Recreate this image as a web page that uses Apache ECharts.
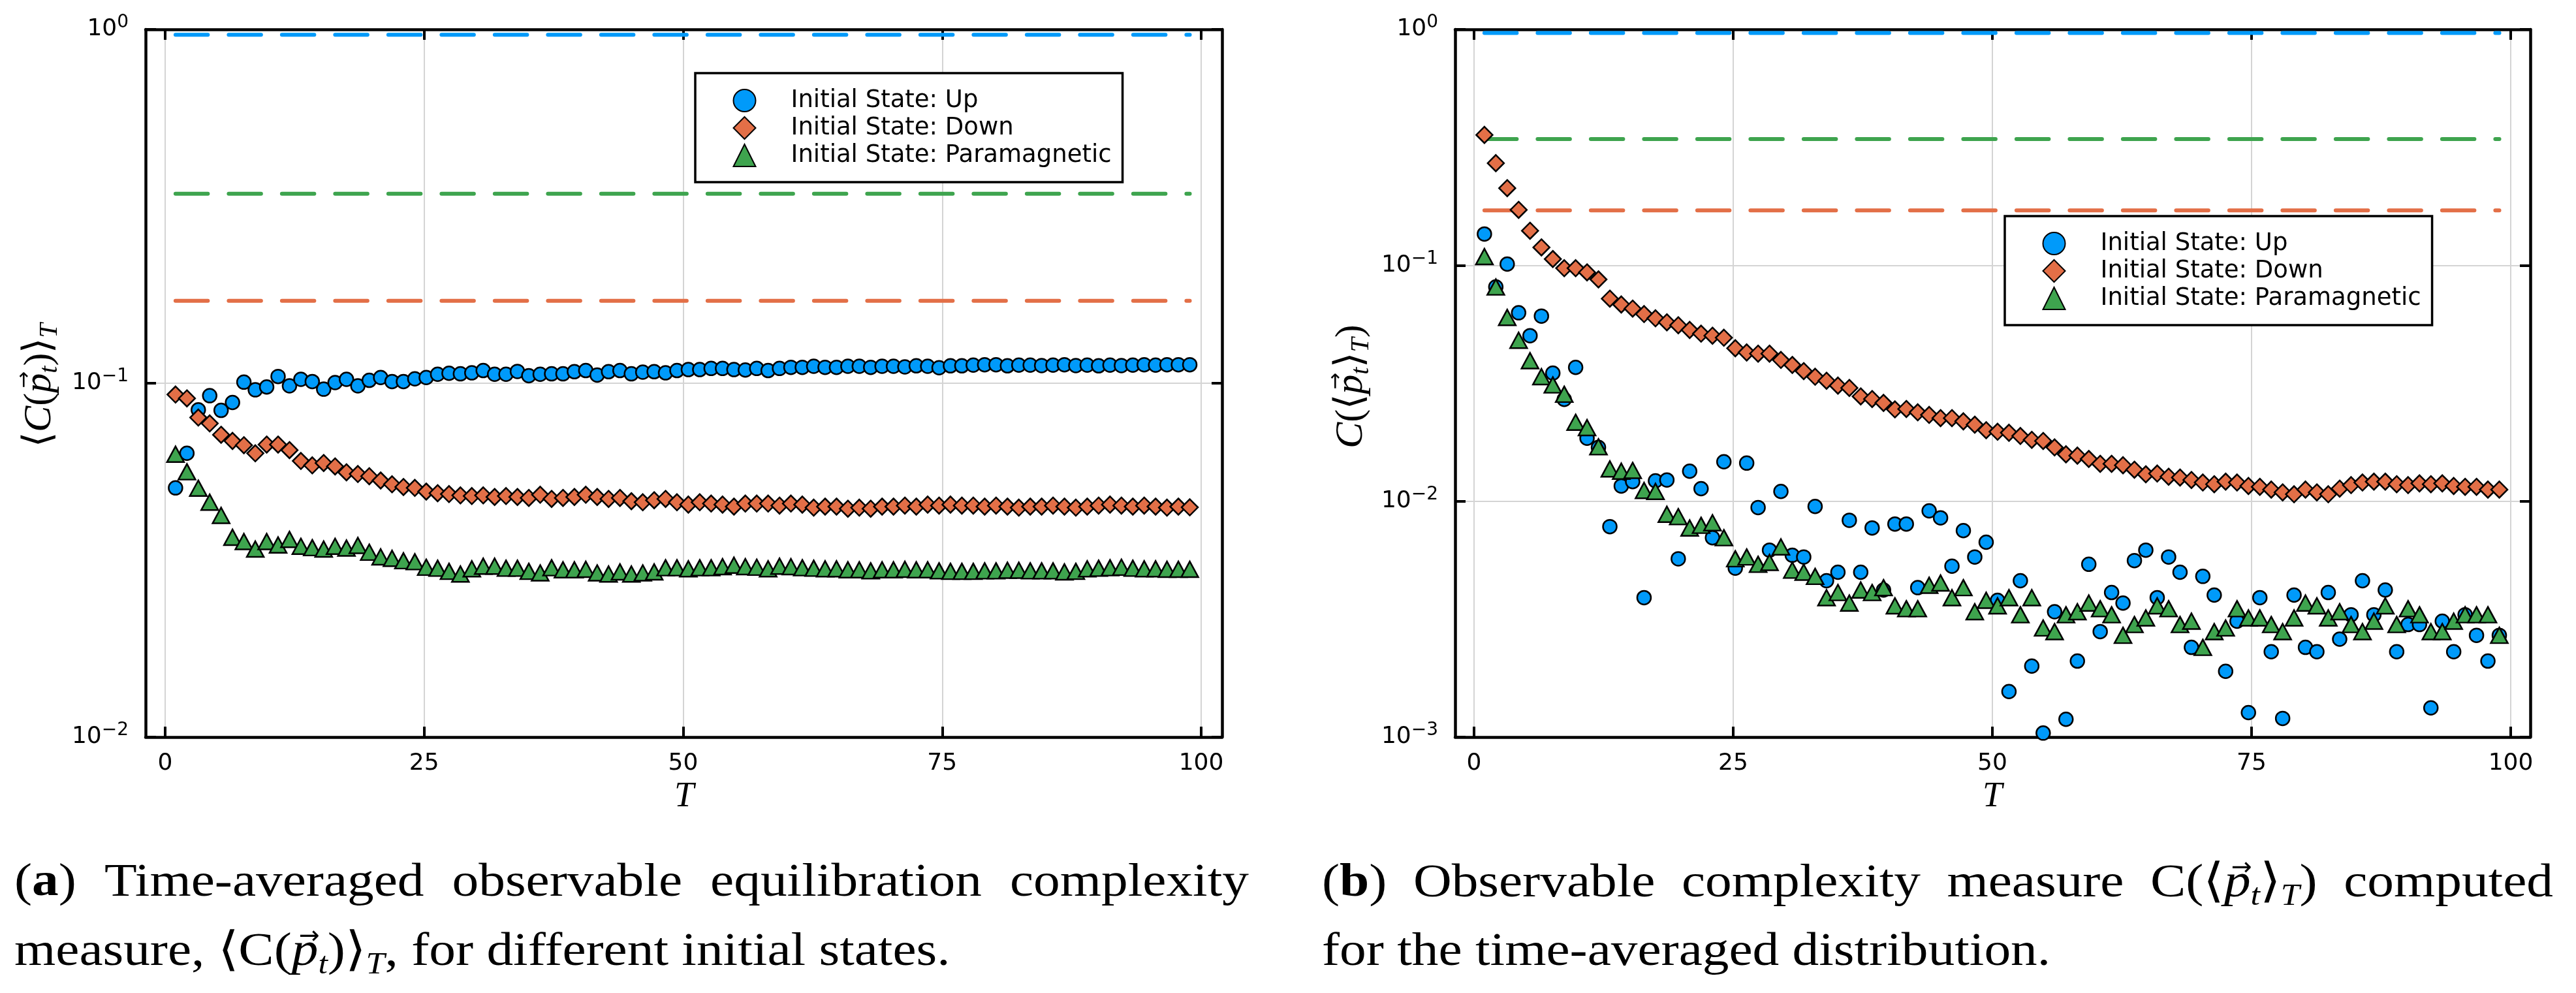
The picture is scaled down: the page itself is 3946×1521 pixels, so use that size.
<!DOCTYPE html>
<html>
  <head>
    <meta charset="utf-8" />
    <script src="https://cdn.jsdelivr.net/npm/echarts@6.0.0/dist/echarts.min.js"></script>
    <style>html, body { margin: 0; padding: 0; background: #fff; }</style>
  </head>
  <body>
    <div id="main" style="width: 3946px;height:1521px;"></div>
    <script type="text/javascript">
      // time-average window T (90 samples, both panels)
      const Ts = [1.0, 2.1, 3.2, 4.3, 5.4, 6.5, 7.6, 8.7, 9.8, 10.9,
        12.0, 13.1, 14.2, 15.3, 16.4, 17.5, 18.6, 19.7, 20.8, 21.9,
        23.0, 24.1, 25.2, 26.3, 27.4, 28.5, 29.6, 30.7, 31.8, 32.9,
        34.0, 35.1, 36.2, 37.3, 38.4, 39.5, 40.6, 41.7, 42.8, 43.9,
        45.0, 46.1, 47.2, 48.3, 49.4, 50.5, 51.6, 52.7, 53.8, 54.9,
        56.0, 57.1, 58.2, 59.3, 60.4, 61.5, 62.6, 63.7, 64.8, 65.9,
        67.0, 68.1, 69.2, 70.3, 71.4, 72.5, 73.6, 74.7, 75.8, 76.9,
        78.0, 79.1, 80.2, 81.3, 82.4, 83.5, 84.6, 85.7, 86.8, 87.9,
        89.0, 90.1, 91.2, 92.3, 93.4, 94.5, 95.6, 96.7, 97.8, 98.9];

      // panel (a): <C(p_t)>_T
      const leftUp = [0.0506, 0.0634, 0.0841, 0.0922, 0.0838, 0.0882, 0.1007, 0.0958, 0.0976, 0.1045,
        0.0983, 0.1026, 0.1011, 0.0962, 0.1004, 0.1026, 0.0983, 0.1019, 0.1038, 0.1011,
        0.1011, 0.1029, 0.1038, 0.1060, 0.1067, 0.1063, 0.1070, 0.1086, 0.1060, 0.1060,
        0.1080, 0.1050, 0.1060, 0.1063, 0.1063, 0.1078, 0.1086, 0.1055, 0.1078, 0.1086,
        0.1063, 0.1075, 0.1078, 0.1070, 0.1086, 0.1093, 0.1093, 0.1101, 0.1101, 0.1093,
        0.1090, 0.1101, 0.1086, 0.1101, 0.1109, 0.1109, 0.1117, 0.1109, 0.1109, 0.1117,
        0.1117, 0.1109, 0.1117, 0.1117, 0.1112, 0.1120, 0.1117, 0.1106, 0.1120, 0.1120,
        0.1125, 0.1128, 0.1128, 0.1120, 0.1125, 0.1125, 0.1122, 0.1125, 0.1128, 0.1122,
        0.1125, 0.1120, 0.1125, 0.1122, 0.1125, 0.1128, 0.1125, 0.1128, 0.1128, 0.1128];
      const leftDown = [0.0929, 0.0906, 0.0800, 0.0770, 0.0715, 0.0687, 0.0668, 0.0634, 0.0671, 0.0671,
        0.0647, 0.0603, 0.0586, 0.0595, 0.0582, 0.0560, 0.0554, 0.0546, 0.0531, 0.0518,
        0.0509, 0.0506, 0.0494, 0.0489, 0.0486, 0.0482, 0.0480, 0.0482, 0.0477, 0.0480,
        0.0477, 0.0474, 0.0484, 0.0471, 0.0474, 0.0477, 0.0484, 0.0477, 0.0471, 0.0474,
        0.0464, 0.0461, 0.0467, 0.0471, 0.0461, 0.0454, 0.0461, 0.0457, 0.0454, 0.0448,
        0.0457, 0.0457, 0.0457, 0.0451, 0.0457, 0.0454, 0.0445, 0.0448, 0.0448, 0.0442,
        0.0445, 0.0442, 0.0448, 0.0448, 0.0451, 0.0448, 0.0454, 0.0451, 0.0454, 0.0451,
        0.0451, 0.0448, 0.0451, 0.0448, 0.0445, 0.0448, 0.0448, 0.0451, 0.0448, 0.0445,
        0.0448, 0.0451, 0.0454, 0.0451, 0.0448, 0.0451, 0.0448, 0.0445, 0.0448, 0.0446];
      const leftPara = [0.0630, 0.0562, 0.0505, 0.0461, 0.0423, 0.0367, 0.0357, 0.0340, 0.0357, 0.0349,
        0.0362, 0.0346, 0.0343, 0.0340, 0.0346, 0.0342, 0.0348, 0.0333, 0.0323, 0.0320,
        0.0315, 0.0313, 0.0302, 0.0300, 0.0294, 0.0289, 0.0299, 0.0304, 0.0304, 0.0300,
        0.0300, 0.0294, 0.0291, 0.0301, 0.0297, 0.0297, 0.0298, 0.0291, 0.0289, 0.0293,
        0.0289, 0.0291, 0.0293, 0.0301, 0.0301, 0.0299, 0.0301, 0.0301, 0.0303, 0.0306,
        0.0303, 0.0302, 0.0299, 0.0304, 0.0303, 0.0301, 0.0300, 0.0299, 0.0299, 0.0297,
        0.0297, 0.0295, 0.0297, 0.0297, 0.0298, 0.0297, 0.0297, 0.0295, 0.0294, 0.0294,
        0.0294, 0.0295, 0.0295, 0.0296, 0.0296, 0.0295, 0.0295, 0.0295, 0.0293, 0.0294,
        0.0299, 0.0300, 0.0301, 0.0302, 0.0300, 0.0299, 0.0299, 0.0298, 0.0298, 0.0298];

      // panel (b): C(<p_t>_T)
      const rightUp = [0.1357, 0.0809, 0.1012, 0.0629, 0.0503, 0.0609, 0.0349, 0.0270, 0.0369, 0.0185,
        0.0169, 0.0078, 0.0116, 0.0121, 0.0039, 0.0122, 0.0123, 0.0057, 0.0134, 0.0113,
        0.0070, 0.0147, 0.0052, 0.0145, 0.0094, 0.0062, 0.0110, 0.0059, 0.0058, 0.0095,
        0.0046, 0.0050, 0.0083, 0.0050, 0.0077, 0.0042, 0.0080, 0.0080, 0.0043, 0.0091,
        0.0085, 0.0053, 0.0075, 0.0058, 0.0067, 0.0038, 0.00156, 0.0046, 0.0020, 0.00104,
        0.0034, 0.00119, 0.0021, 0.0054, 0.0028, 0.0041, 0.0037, 0.0056, 0.0062, 0.0039,
        0.0058, 0.0050, 0.0024, 0.0048, 0.0040, 0.0019, 0.0031, 0.00127, 0.0039, 0.0023,
        0.0012, 0.0040, 0.0024, 0.0023, 0.0041, 0.0026, 0.0033, 0.0046, 0.0033, 0.0042,
        0.0023, 0.0030, 0.0030, 0.00133, 0.0031, 0.0023, 0.0033, 0.0027, 0.0021, 0.0027];
      const rightDown = [0.357, 0.271, 0.2123, 0.1718, 0.1401, 0.1191, 0.1063, 0.0972, 0.0972, 0.0933,
        0.0871, 0.0722, 0.0682, 0.0655, 0.0621, 0.0596, 0.0573, 0.0557, 0.0532, 0.0513,
        0.0503, 0.0493, 0.0445, 0.0427, 0.0422, 0.0422, 0.0397, 0.0378, 0.0356, 0.0337,
        0.0324, 0.0309, 0.0302, 0.0278, 0.0271, 0.0261, 0.0245, 0.0246, 0.0238, 0.0232,
        0.0225, 0.0225, 0.0218, 0.0211, 0.0200, 0.0197, 0.0195, 0.0189, 0.0182, 0.0180,
        0.0169, 0.0158, 0.0156, 0.0151, 0.0144, 0.0144, 0.0142, 0.0136, 0.0130, 0.0131,
        0.0127, 0.0126, 0.0123, 0.0120, 0.0118, 0.0121, 0.0120, 0.0116, 0.0115, 0.0112,
        0.0109, 0.0107, 0.0112, 0.0109, 0.0107, 0.0113, 0.0117, 0.0120, 0.0121, 0.0121,
        0.0118, 0.0117, 0.0119, 0.0118, 0.0119, 0.0116, 0.0115, 0.0115, 0.0112, 0.0112];
      const rightPara = [0.1089, 0.0809, 0.0601, 0.0481, 0.0394, 0.0337, 0.0311, 0.0284, 0.0216, 0.0205,
        0.0170, 0.0137, 0.0134, 0.0135, 0.0111, 0.0110, 0.0088, 0.0086, 0.0077, 0.0079,
        0.0081, 0.0070, 0.0057, 0.0058, 0.0054, 0.0055, 0.0064, 0.0051, 0.0050, 0.0048,
        0.0039, 0.0041, 0.0037, 0.0042, 0.0041, 0.0043, 0.0036, 0.0035, 0.0035, 0.0044,
        0.0045, 0.0039, 0.0043, 0.0034, 0.0038, 0.0036, 0.0039, 0.0033, 0.0039, 0.0029,
        0.0028, 0.0033, 0.0034, 0.0037, 0.0035, 0.0033, 0.0027, 0.0030, 0.0032, 0.0036,
        0.0035, 0.0030, 0.0031, 0.0024, 0.0028, 0.0029, 0.0035, 0.0032, 0.0032, 0.0030,
        0.0028, 0.0032, 0.0037, 0.0036, 0.0032, 0.0034, 0.0030, 0.0028, 0.0031, 0.0036,
        0.0030, 0.0035, 0.0033, 0.0028, 0.0028, 0.0031, 0.0033, 0.0033, 0.0033, 0.0027];

      // dashed reference levels: Up, Down, Paramagnetic
      const refLevels = [0.966, 0.171, 0.343];

      const names = ['Initial State: Up', 'Initial State: Down', 'Initial State: Paramagnetic'];
      const colors = ['#009AFA', '#E36F47', '#3EA44E'];
      const symbols = ['circle', 'diamond', 'triangle'];
      const symbolSizes = [21, [25, 25], [26, 24]];

      var myChart = echarts.init(document.getElementById('main'));

      const sansFont = 'DejaVu Sans';
      const serifFont = 'Liberation Serif';
      const gridCol = '#d4d4d4';

      function scatter(k, ys, xi, yi) {
        return { name: names[k],
          type: 'scatter',
          xAxisIndex: xi,
          yAxisIndex: yi,
          symbol: symbols[k],
          symbolSize: symbolSizes[k],
          data: Ts.map((t, i) => [t, ys[i]]),
          itemStyle: { color: colors[k], borderColor: '#000', borderWidth: 2.5, opacity: 1 },
          emphasis: { disabled: true },
          z: 3
        };
      }
      function level(k, xi, yi) {
        return { name: 'level' + k + '_' + xi,
          type: 'line',
          xAxisIndex: xi,
          yAxisIndex: yi,
          symbol: 'none',
          silent: true,
          data: [[Ts[0], refLevels[k]], [Ts[Ts.length - 1], refLevels[k]]],
          lineStyle: { color: colors[k], width: 6, type: [49.5, 32], cap: 'round' },
          z: 2
        };
      }

      function logLabel(v) {
        const e = Math.round(Math.log10(v));
        return '10{sup|' + (e < 0 ? '\u2212' + (-e) : e) + '}';
      }

      // inner x axis (0..100, ticks + grid) and outer frame axes
      function innerX(g, pos, main) {
        return { type: 'value', gridIndex: g, position: pos, min: 0, max: 100, interval: 25,
          axisLine: { show: false, onZero: false },
          axisTick: { show: true, inside: true, length: 16, lineStyle: { color: '#000', width: 4 } },
          axisLabel: { show: main, margin: 23, fontFamily: sansFont, fontSize: 36, color: '#000' },
          splitLine: { show: main, lineStyle: { color: gridCol, width: 2 } }
        };
      }
      function frameX(g, pos) {
        return { type: 'value', gridIndex: g, position: pos, min: 0, max: 1,
          axisLine: { show: true, onZero: false, lineStyle: { color: '#000', width: 4.5 } },
          axisTick: { show: false }, axisLabel: { show: false }, splitLine: { show: false }
        };
      }
      function frameY(g, pos, lo, main) {
        return { type: 'log', logBase: 10, gridIndex: g, position: pos, min: lo, max: 1,
          axisLine: { show: true, onZero: false, lineStyle: { color: '#000', width: 4.5 } },
          axisTick: { show: true, inside: true, length: 16, lineStyle: { color: '#000', width: 4 } },
          axisLabel: { show: main, margin: 26, fontFamily: sansFont, fontSize: 36, color: '#000',
            lineHeight: 48, formatter: logLabel,
            rich: { sup: { fontFamily: sansFont, fontSize: 28, color: '#000', lineHeight: 10, verticalAlign: 'top' } } },
          splitLine: { show: main, lineStyle: { color: gridCol, width: 2 } }
        };
      }
      function dataY(g, lo) {
        return { type: 'log', logBase: 10, gridIndex: g, min: lo, max: 1, show: false,
          axisLine: { onZero: false } };
      }

      // caption / label text ('v' = vector p, gets an arrow on top)
      const capSize = 72;
      const capStretch = 1.13;
      const capRich = {
        n: { fontFamily: serifFont, fontSize: capSize, lineHeight: 86, color: '#000' },
        b: { fontFamily: serifFont, fontSize: capSize, fontWeight: 'bold', lineHeight: 86, color: '#000' },
        v: { fontFamily: serifFont, fontSize: capSize, fontStyle: 'italic', lineHeight: 86, color: '#000' },
        s: { fontFamily: serifFont, fontSize: 46, fontStyle: 'italic', lineHeight: 42, verticalAlign: 'bottom', color: '#000' }
      };
      const labRich = {
        n: { fontFamily: serifFont, fontSize: 60, lineHeight: 70, color: '#000' },
        i: { fontFamily: serifFont, fontSize: 60, fontStyle: 'italic', lineHeight: 70, color: '#000' },
        v: { fontFamily: serifFont, fontSize: 60, fontStyle: 'italic', lineHeight: 70, color: '#000' },
        s: { fontFamily: serifFont, fontSize: 40, fontStyle: 'italic', lineHeight: 32, verticalAlign: 'bottom', color: '#000' }
      };
      const capA1 = [[['(', 'n'], ['a', 'b'], [')', 'n']], 'Time-averaged', 'observable', 'equilibration', 'complexity'];
      const capA2 = ['measure,', [['\u27E8C(', 'n'], ['p', 'v'], ['t', 's'], [')\u27E9', 'n'], ['T', 's'], [',', 'n']],
        'for', 'different', 'initial', 'states.'];
      const capB1 = [[['(', 'n'], ['b', 'b'], [')', 'n']], 'Observable', 'complexity', 'measure',
        [['C(\u27E8', 'n'], ['p', 'v'], ['t', 's'], ['\u27E9', 'n'], ['T', 's'], [')', 'n']], 'computed'];
      const capB2 = ['for', 'the', 'time-averaged', 'distribution.'];
      const labA = [['\u27E8', 'n'], ['C', 'i'], ['(', 'n'], ['p', 'v'], ['t', 's'], [')\u27E9', 'n'], ['T', 's']];
      const labB = [['C', 'i'], ['(\u27E8', 'n'], ['p', 'v'], ['t', 's'], ['\u27E9', 'n'], ['T', 's'], [')', 'n']];

      const mctx = document.createElement('canvas').getContext('2d');
      function cssFont(st) {
        return (st.fontStyle || 'normal') + ' ' + (st.fontWeight || 'normal') + ' ' + st.fontSize + 'px "' + st.fontFamily + '"';
      }
      function asWord(w) { return typeof w === 'string' ? [[w, 'n']] : w; }
      function fragW(f, rich) { mctx.font = cssFont(rich[f[1]]); return mctx.measureText(f[0]).width; }
      function wordWidth(w, rich) { return w.reduce((s, f) => s + fragW(f, rich), 0); }
      function richText(w) { return w.map(f => '{' + f[1] + '|' + f[0] + '}').join(''); }
      // centres (along the text) of the vector symbols inside a word
      function vecCentres(w, rich) {
        let x = 0; const out = [];
        w.forEach(f => { const fw = fragW(f, rich); if (f[1] === 'v') out.push(x + fw / 2 + rich.v.fontSize * 0.08); x += fw; });
        return out;
      }
      function arrow(x, y, size, rot) {
        return { type: 'text', x: x, y: y, rotation: rot || 0, silent: true,
          style: { text: '\u2192', font: size + 'px "DejaVu Sans"', fill: '#000', align: 'center', verticalAlign: 'middle' } };
      }
      function captionLine(words, x0, x1, baseline, justify) {
        const ws = words.map(asWord);
        const widths = ws.map(w => wordWidth(w, capRich) * capStretch);
        const total = widths.reduce((a, b) => a + b, 0);
        mctx.font = cssFont(capRich.n);
        const gap = justify ? (x1 - x0 - total) / (ws.length - 1) : mctx.measureText(' ').width * capStretch;
        const y = baseline - 0.3375 * capSize;
        let x = x0;
        const out = [];
        ws.forEach((w, i) => {
          out.push({ type: 'text', x: x, y: y, scaleX: capStretch, silent: true,
            style: { text: richText(w), rich: capRich, align: 'left', verticalAlign: 'middle' } });
          vecCentres(w, capRich).forEach(c => out.push(arrow(x + c * capStretch, baseline - 48, 38)));
          x += widths[i] + gap;
        });
        return out;
      }
      // rotated (bottom-to-top) axis title centred on (ax, ay)
      function yTitle(frags, ax, ay) {
        const W = wordWidth(frags, labRich);
        const out = [{ type: 'text', x: ax, y: ay, rotation: Math.PI / 2, silent: true,
          style: { text: richText(frags), rich: labRich, align: 'center', verticalAlign: 'middle' } }];
        const up = 0.3375 * labRich.n.fontSize - 0.72 * labRich.n.fontSize;
        vecCentres(frags, labRich).forEach(c => {
          const lx = -W / 2 + c;
          out.push(arrow(ax + up, ay - lx, 31, Math.PI / 2));
        });
        return out;
      }

      const graphics = [].concat(
        captionLine(capA1, 22, 1913, 1377, true),
        captionLine(capA2, 22, 1913, 1483, false),
        captionLine(capB1, 2025, 3911, 1378, true),
        captionLine(capB2, 2025, 3911, 1483, false),
        yTitle(labA, 61, 590),
        yTitle(labB, 2070, 592),
        [
          { type: 'text', x: 1048, y: 1221, silent: true,
            style: { text: 'T', font: 'italic 54px "Liberation Serif"', fill: '#000', align: 'center', verticalAlign: 'middle' } },
          { type: 'text', x: 3052, y: 1221, silent: true,
            style: { text: 'T', font: 'italic 54px "Liberation Serif"', fill: '#000', align: 'center', verticalAlign: 'middle' } }
        ]
      );

      function legendAt(x, y) {
        return { data: names, orient: 'vertical', left: x, top: y,
          padding: [23.5, 17, 22.5, 57.5],
          itemWidth: 34, itemHeight: 34, itemGap: 5,
          backgroundColor: '#fff', borderColor: '#000', borderWidth: 3.5, borderRadius: 0,
          selectedMode: false,
          textStyle: { fontFamily: sansFont, fontSize: 37, color: '#000', lineHeight: 36, padding: [0, 0, 0, 49] }
        };
      }

      option = {
        animation: false,
        backgroundColor: '#fff',
        grid: [
          { left: 223, top: 45, width: 1649, height: 1084, outerBoundsMode: 'none' },
          { left: 253, top: 45, width: 1587, height: 1084, outerBoundsMode: 'none' },
          { left: 2229, top: 45, width: 1647, height: 1084, outerBoundsMode: 'none' },
          { left: 2258, top: 45, width: 1588, height: 1084, outerBoundsMode: 'none' }
        ],
        xAxis: [
          innerX(1, 'bottom', true), innerX(1, 'top', false),
          frameX(0, 'bottom'), frameX(0, 'top'),
          innerX(3, 'bottom', true), innerX(3, 'top', false),
          frameX(2, 'bottom'), frameX(2, 'top')
        ],
        yAxis: [
          dataY(1, 0.01),
          frameY(0, 'left', 0.01, true), frameY(0, 'right', 0.01, false),
          dataY(3, 0.001),
          frameY(2, 'left', 0.001, true), frameY(2, 'right', 0.001, false)
        ],
        legend: [legendAt(1065, 112), legendAt(3071, 331)],
        graphic: { elements: graphics },
        series: [
          level(0, 0, 0), level(2, 0, 0), level(1, 0, 0),
          scatter(0, leftUp, 0, 0), scatter(1, leftDown, 0, 0), scatter(2, leftPara, 0, 0),
          level(0, 4, 3), level(2, 4, 3), level(1, 4, 3),
          scatter(0, rightUp, 4, 3), scatter(1, rightDown, 4, 3), scatter(2, rightPara, 4, 3)
        ]
      };

      myChart.setOption(option);
    </script>
  </body>
</html>
